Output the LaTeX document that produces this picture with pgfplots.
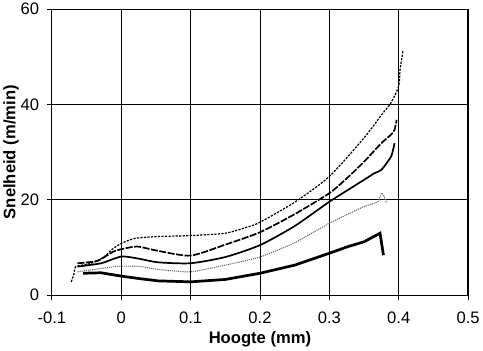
\documentclass[border=0pt]{standalone}
\usepackage{fontspec}
\setmainfont{Liberation Sans}
\usepackage{pgfplots}
\pgfplotsset{compat=1.18}
\begin{document}
\begin{tikzpicture}
\begin{axis}[
  scale only axis,
  width=412bp, height=283bp,
  xmin=-0.1, xmax=0.5, ymin=0, ymax=60,
  xtick={-0.1,0,0.1,0.2,0.3,0.4,0.5},
  xticklabels={-0.1,0,0.1,0.2,0.3,0.4,0.5},
  ytick={0,20,40,60},
  yticklabels={0,20,40,60},
  grid=major,
  major grid style={black, line width=0.9pt},
  axis line style={black, line width=1.3pt},
  tick style={black, line width=0.8pt},
  tick align=outside,
  major tick length=5bp,
  xtick pos=bottom, ytick pos=left,
  tick label style={font=\fontsize{16.5}{19}\selectfont},
  xticklabel style={yshift=-8bp},
  yticklabel style={xshift=-4bp},
  xlabel={\bfseries Hoogte (mm)},
  ylabel={\bfseries Snelheid (m/min)},
  label style={font=\fontsize{16.5}{19}\selectfont},
  xlabel style={yshift=-1bp},
  ylabel style={yshift=-5bp},
]
% L1 top, fine dash
\addplot[black, line width=1.2pt, dash pattern=on 2.2pt off 1.3pt, smooth, tension=0.4] coordinates {
(-0.072,2.8) (-0.068,4.5) (-0.065,6.0) (-0.043,6.7) (-0.025,8.0) (-0.014,9.5) (-0.002,10.7) (0.019,11.9) (0.053,12.3) (0.1,12.5) (0.15,13.0) (0.182,14.3) (0.2,15.3) (0.25,19.5) (0.3,24.9) (0.35,33.0) (0.375,37.8) (0.389,40.4) (0.4,43.9) (0.402,47.4) (0.406,51.2)};
% L2 long dashes
\addplot[black, line width=1.7pt, dash pattern=on 7pt off 1.5pt, smooth, tension=0.4] coordinates {
(-0.063,6.7) (-0.034,7.2) (-0.012,9.1) (0.005,9.8) (0.024,10.2) (0.053,9.3) (0.1,8.3) (0.15,10.6) (0.2,13.2) (0.25,17.0) (0.3,21.4) (0.325,24.5) (0.35,28.0) (0.375,31.9) (0.389,33.7) (0.394,34.7) (0.397,36.8)};
% L3 solid
\addplot[black, line width=1.7pt, smooth, tension=0.4] coordinates {
(-0.063,6.0) (-0.029,6.7) (0.0,8.1) (0.024,7.7) (0.053,6.9) (0.1,6.7) (0.15,8.0) (0.2,10.5) (0.25,14.5) (0.3,19.6) (0.35,24.2) (0.365,25.6) (0.375,26.3) (0.389,29.1) (0.394,31.9)};
% L4 gray dotted
\addplot[black!60, line width=1.1pt, densely dotted, smooth, tension=0.3] coordinates {
(-0.063,4.9) (-0.029,5.6) (0.0,6.1) (0.029,6.0) (0.053,5.4) (0.1,4.9) (0.15,6.3) (0.2,8.0) (0.25,11.0) (0.3,15.1) (0.35,18.6) (0.37,19.6) (0.375,21.4) (0.378,21.0) (0.383,19.3)};
% L5 thick solid
\addplot[black, line width=2.7pt] coordinates {
(-0.055,4.6) (-0.029,4.7) (0.0,4.0) (0.025,3.5) (0.053,3.0) (0.1,2.8) (0.15,3.3) (0.2,4.6) (0.25,6.3) (0.3,8.8) (0.327,10.2) (0.35,11.2) (0.373,13.0) (0.378,8.4)};
\end{axis}
\end{tikzpicture}
\end{document}
